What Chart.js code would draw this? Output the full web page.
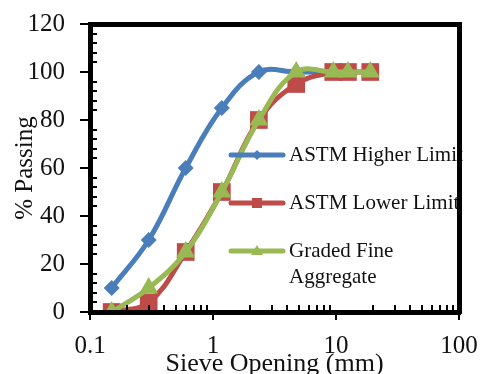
<!DOCTYPE html>
<html>
<head>
<meta charset="utf-8">
<script src="https://cdn.jsdelivr.net/npm/chart.js@4"></script>
<style>
  html, body { margin: 0; padding: 0; background: #fff; }
  #wrap { width: 481px; height: 374px; }
</style>
</head>
<body>
<div id="wrap"><canvas id="chart"></canvas></div>
<script>
// sieve sizes (mm) and % passing
const sieveSizes = [0.15, 0.3, 0.6, 1.18, 2.36, 4.75, 9.5, 12.5, 19];
const higherLimit = [10, 30, 60, 85, 100, 100, 100];
const lowerLimit = [0, 4, 25, 50, 80, 95, 100, 100, 100];
const gradedFine = [0, 10, 25, 50, 80, 100, 100, 100, 100];
const xTicks = [0.1, 1, 10, 100];
const yTicks = [0, 20, 40, 60, 80, 100, 120];

const FONT = "'Liberation Serif', 'Times New Roman', serif";

function pts(ys) {
  return ys.map((y, i) => ({ x: sieveSizes[i], y: y }));
}

// frame, ticks and the legend drawn inside the plot
const decor = {
  id: "decor",
  afterDatasetsDraw(chart) {
    const c = chart.ctx;
    const a = chart.chartArea;
    const xs = chart.scales.x;
    const ys = chart.scales.y;
    c.save();

    // legend
    const rows = [
      { ds: 0, y: 155, lines: ["ASTM Higher Limit"] },
      { ds: 1, y: 203, lines: ["ASTM Lower Limit"] },
      { ds: 2, y: 251, lines: ["Graded Fine", "Aggregate"] },
    ];
    rows.forEach((r) => {
      const d = chart.data.datasets[r.ds];
      c.strokeStyle = d.borderColor;
      c.lineWidth = 5;
      c.lineCap = "round";
      c.beginPath();
      c.moveTo(231, r.y);
      c.lineTo(283, r.y);
      c.stroke();
      c.fillStyle = d.backgroundColor;
      const mx = 257, my = r.y;
      c.beginPath();
      if (d.pointStyle === "rectRot") {
        c.moveTo(mx, my - 5); c.lineTo(mx + 5, my); c.lineTo(mx, my + 5); c.lineTo(mx - 5, my);
      } else if (d.pointStyle === "rect") {
        c.rect(mx - 5, my - 5, 10, 10);
      } else {
        c.moveTo(mx, my - 6); c.lineTo(mx + 6, my + 4); c.lineTo(mx - 6, my + 4);
      }
      c.closePath();
      c.fill();
      c.fillStyle = "#111";
      c.font = "21px " + FONT;
      c.textBaseline = "middle";
      c.textAlign = "left";
      r.lines.forEach((t, i) => c.fillText(t, 289, r.y + i * 26));
    });

    // frame
    c.fillStyle = "#000";
    const L = Math.round(a.left), T = Math.round(a.top);
    const R = Math.round(a.right), B = Math.round(a.bottom);
    c.fillRect(L - 2, T - 2, R - L + 4, 5);
    c.fillRect(L - 2, B - 2, R - L + 4, 5);
    c.fillRect(L - 2, T - 2, 5, B - T + 4);
    c.fillRect(R - 2, T - 2, 5, B - T + 4);

    // y ticks
    for (let v = 0; v <= 120; v += 4) {
      const py = Math.round(ys.getPixelForValue(v));
      if (v % 20 === 0) {
        c.fillRect(L - 10, py - 1, 10, 2);
      } else {
        c.fillRect(L, py - 1, 7, 2);
      }
    }
    // x ticks
    for (let dec = 0.1; dec < 100; dec *= 10) {
      for (let k = 1; k <= 10; k++) {
        const px = Math.round(xs.getPixelForValue(dec * k));
        if (k === 1 || k === 10) {
          c.fillRect(px - 1, B, 2, 8);
        } else {
          c.fillRect(px - 1, B - 7, 2, 7);
        }
      }
    }
    c.restore();
  },
};

const ctx = document.getElementById("chart");

new Chart(ctx, {
  type: "line",
  plugins: [decor],
  data: {
    datasets: [
      {
        label: "ASTM Higher Limit",
        data: pts(higherLimit),
        borderColor: "#4a7ebb",
        backgroundColor: "#4a7ebb",
        pointStyle: "rectRot",
        pointRadius: 8,
        order: 3,
      },
      {
        label: "ASTM Lower Limit",
        data: pts(lowerLimit),
        borderColor: "#be4b48",
        backgroundColor: "#be4b48",
        pointStyle: "rect",
        pointRadius: 12.5,
        order: 2,
      },
      {
        label: "Graded Fine Aggregate",
        data: pts(gradedFine),
        borderColor: "#98b954",
        backgroundColor: "#98b954",
        pointStyle: "triangle",
        pointRadius: 11,
        order: 1,
      },
    ],
  },
  options: {
    responsive: true,
    maintainAspectRatio: false,
    animation: false,
    elements: {
      line: { borderWidth: 5, tension: 0.4 },
      point: { borderWidth: 0 },
    },
    layout: { padding: { top: 24, right: 22, left: 0, bottom: 0 } },
    scales: {
      x: {
        type: "logarithmic",
        min: 0.1,
        max: 100,
        afterBuildTicks: (s) => { s.ticks = xTicks.map((v) => ({ value: v })); },
        afterFit: (s) => { s.height = 62; s.paddingLeft = 0; s.paddingRight = 0; },
        grid: { display: false },
        border: { display: false },
        ticks: {
          color: "#111",
          font: { family: FONT, size: 25 },
          padding: 11,
          maxRotation: 0,
          callback: (v) => String(v),
        },
        title: {
          display: true,
          text: "Sieve Opening (mm)",
          color: "#111",
          font: { family: FONT, size: 26 },
          padding: { top: 0, bottom: -6 },
        },
      },
      y: {
        min: 0,
        max: 120,
        afterBuildTicks: (s) => { s.ticks = yTicks.map((v) => ({ value: v })); },
        afterFit: (s) => { s.width = 90; s.paddingTop = 0; s.paddingBottom = 0; },
        grid: { display: false },
        border: { display: false },
        ticks: {
          color: "#111",
          font: { family: FONT, size: 25 },
          padding: 17,
        },
        title: {
          display: true,
          text: "% Passing",
          color: "#111",
          font: { family: FONT, size: 25 },
          padding: { top: 10, bottom: 0 },
        },
      },
    },
    plugins: {
      legend: { display: false },
      tooltip: { enabled: false },
    },
  },
});
</script>
</body>
</html>
